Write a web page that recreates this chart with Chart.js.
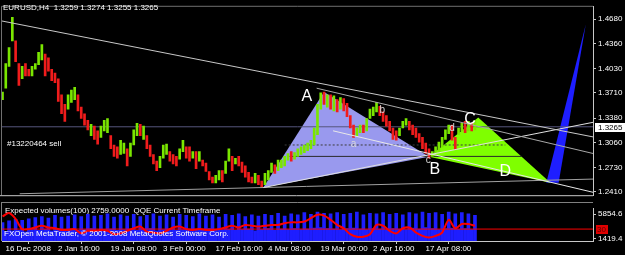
<!DOCTYPE html>
<html>
<head>
<meta charset="utf-8">
<script src="https://cdn.jsdelivr.net/npm/chart.js@4.4.1/dist/chart.umd.min.js"></script>
<style>
  html, body { margin: 0; padding: 0; background: #000; }
  #wrap { position: relative; width: 625px; height: 255px; overflow: hidden; }
  canvas { position: absolute; left: 0; display: block; }
  #mainChart { top: 0; }
  #qqeChart { top: 202px; }
</style>
</head>
<body>
<div id="wrap">
  <canvas id="mainChart" width="625" height="202"></canvas>
  <canvas id="qqeChart" width="625" height="53"></canvas>
</div>
<script>
// EURUSD H4, 16 Dec 2008 .. 22 Apr 2009. one plotted candle = 4 H4 bars
const STEP = 4;

const CANDLE_HIGH = [
  1.3722, 1.4095, 1.4307, 1.4705, 1.4394, 1.4095, 1.4058, 1.4095, 1.4021, 1.4058,
  1.4095, 1.4245, 1.4344, 1.4220, 1.4170, 1.4021, 1.3971, 1.3896, 1.3685, 1.3560,
  1.3685, 1.3747, 1.3784, 1.3685, 1.3523, 1.3436, 1.3349, 1.3299, 1.3274, 1.3212,
  1.3274, 1.3349, 1.3374, 1.3150, 1.3026, 1.3001, 1.3088, 1.3050, 1.2976, 1.3050,
  1.3225, 1.3311, 1.3299, 1.3274, 1.3150, 1.3026, 1.2901, 1.2814, 1.2876, 1.3026,
  1.3038, 1.2939, 1.2901, 1.2876, 1.2976, 1.3088, 1.3001, 1.3001, 1.2939, 1.2939,
  1.2939, 1.2827, 1.2789, 1.2677, 1.2603, 1.2627, 1.2690, 1.2690, 1.2814, 1.2976,
  1.2876, 1.2852, 1.2876, 1.2802, 1.2752, 1.2665, 1.2603, 1.2652, 1.2627, 1.2553,
  1.2652, 1.2690, 1.2789, 1.2764, 1.2827, 1.2827, 1.2876, 1.2914, 1.2939, 1.2926,
  1.2976, 1.3001, 1.3026, 1.3050, 1.3088, 1.3249, 1.3560, 1.3710, 1.3722, 1.3685,
  1.3685, 1.3672, 1.3623, 1.3648, 1.3635, 1.3573, 1.3411, 1.3287, 1.3249, 1.3287,
  1.3287, 1.3374, 1.3498, 1.3523, 1.3585, 1.3535, 1.3461, 1.3411, 1.3336, 1.3249,
  1.3212, 1.3249, 1.3336, 1.3374, 1.3336, 1.3287, 1.3249, 1.3175, 1.3125, 1.3050,
  1.2976, 1.2939, 1.3001, 1.3063, 1.3125, 1.3225, 1.3287, 1.3287, 1.3125, 1.3249,
  1.3311, 1.3336, 1.3336, 1.3311, 1.3349
];
const CANDLE_LOW = [
  1.3623, 1.3772, 1.4058, 1.4394, 1.4120, 1.3809, 1.3896, 1.3934, 1.3934, 1.3934,
  1.4021, 1.4083, 1.4145, 1.3934, 1.3996, 1.3871, 1.3846, 1.3598, 1.3436, 1.3336,
  1.3498, 1.3585, 1.3623, 1.3473, 1.3374, 1.3287, 1.3225, 1.3150, 1.3100, 1.3038,
  1.3125, 1.3212, 1.3187, 1.2976, 1.2876, 1.2852, 1.2901, 1.2914, 1.2752, 1.2876,
  1.3026, 1.3150, 1.3150, 1.3100, 1.2976, 1.2876, 1.2777, 1.2690, 1.2727, 1.2852,
  1.2901, 1.2814, 1.2777, 1.2752, 1.2839, 1.2939, 1.2852, 1.2814, 1.2852, 1.2715,
  1.2814, 1.2752, 1.2677, 1.2566, 1.2528, 1.2528, 1.2566, 1.2541, 1.2652, 1.2814,
  1.2690, 1.2777, 1.2752, 1.2665, 1.2603, 1.2541, 1.2528, 1.2528, 1.2503, 1.2466,
  1.2503, 1.2566, 1.2665, 1.2652, 1.2690, 1.2727, 1.2752, 1.2827, 1.2814, 1.2839,
  1.2876, 1.2901, 1.2926, 1.2951, 1.2976, 1.3026, 1.3162, 1.3498, 1.3560, 1.3523,
  1.3498, 1.3473, 1.3461, 1.3498, 1.3473, 1.3399, 1.3249, 1.3125, 1.3150, 1.3187,
  1.3187, 1.3212, 1.3374, 1.3411, 1.3461, 1.3411, 1.3336, 1.3274, 1.3212, 1.3100,
  1.3088, 1.3150, 1.3249, 1.3287, 1.3225, 1.3162, 1.3125, 1.3063, 1.2976, 1.2914,
  1.2852, 1.2876, 1.2901, 1.2939, 1.3001, 1.3100, 1.3175, 1.3088, 1.2964, 1.3162,
  1.3212, 1.3187, 1.3212, 1.3212, 1.3225
];
// 1 = bull candle, 0 = bear candle
const CANDLE_UP = [
  1, 1, 1, 1, 0, 0, 1, 0, 0, 1,
  1, 1, 1, 0, 0, 0, 0, 0, 0, 0,
  1, 1, 1, 0, 0, 0, 0, 1, 0, 0,
  1, 1, 1, 0, 0, 0, 1, 1, 0, 1,
  1, 1, 0, 1, 0, 0, 0, 0, 1, 1,
  1, 0, 0, 0, 1, 1, 0, 0, 1, 0,
  1, 0, 0, 0, 0, 1, 1, 0, 1, 1,
  0, 1, 0, 0, 0, 0, 0, 1, 0, 0,
  1, 1, 1, 0, 1, 1, 1, 1, 0, 1,
  1, 1, 1, 1, 1, 1, 1, 1, 0, 1,
  0, 1, 0, 1, 0, 0, 0, 0, 1, 1,
  0, 1, 1, 1, 1, 0, 0, 0, 0, 0,
  0, 1, 1, 1, 0, 0, 0, 0, 0, 0,
  0, 1, 1, 1, 1, 1, 1, 0, 0, 1,
  1, 0, 1, 0, 1
];

// Expected volumes(100), one value per plotted candle
const VOLUME = [
  4300, 2700, 4600, 2800, 4900, 2900, 4700, 2600, 5000, 3000,
  5200, 2900, 5400, 3100, 5100, 2800, 5600, 3000, 5300, 2900,
  5500, 3100, 5700, 2900, 5400, 3000, 5800, 3200, 5500, 2800,
  5600, 3000, 5900, 3100, 5300, 2900, 5700, 3000, 5500, 3100,
  5800, 2900, 5400, 3000, 5600, 3200, 5900, 2800, 5500, 3000,
  5700, 3100, 5300, 2900, 5800, 3000, 5600, 3100, 5400, 2900,
  5900, 3000, 5500, 3200, 5700, 2900, 5300, 3000, 5800, 3100,
  5600, 2900, 5900, 3000, 5400, 3100, 5700, 2800, 5500, 3000,
  5800, 3200, 5600, 2900, 6000, 3100, 5500, 3000, 5900, 3200,
  5700, 3000, 6100, 3100, 5800, 3300, 6200, 3400, 6000, 3200,
  5900, 3100, 6100, 3000, 5800, 3200, 6000, 3300, 6200, 3100,
  5700, 3000, 6000, 3200, 5900, 3100, 6100, 3000, 5800, 3200,
  6000, 3100, 5700, 3000, 6100, 3300, 5900, 3100, 6200, 3400,
  6000, 3200, 6100, 3000, 5800, 3200, 6200, 3300, 5900, 3100,
  6100, 3200, 5900, 3000, 5600
];

// QQE, one value every 2 plotted candles
const QQE_STEP = 8;
const QQE = [
  64.3, 73.5, 57.4, 29.9, 29.9, 34.5, 39.0, 34.5, 32.2, 27.6,
  27.6, 29.9, 18.4, 25.3, 25.3, 27.6, 25.3, 16.1, 18.4, 25.3,
  32.2, 36.8, 23.0, 20.7, 18.4, 25.3, 34.5, 36.8, 29.9, 27.6,
  29.9, 27.6, 27.6, 29.9, 34.5, 39.0, 34.5, 41.3, 39.0, 36.8,
  39.0, 41.3, 41.3, 45.9, 48.2, 48.2, 50.5, 59.7, 68.9, 66.6,
  55.1, 41.3, 32.2, 16.1, 9.2, 9.2, 16.1, 41.3, 39.0, 25.3,
  18.4, 32.2, 34.5, 20.7, 11.5, 6.9, 11.5, 20.7, 55.1, 32.2,
  43.6, 43.6, 39.0
];
const QQE_LEVEL = 30;

const PRICE_TICKS = [1.4680, 1.4360, 1.4030, 1.3710, 1.3380, 1.3060, 1.2730, 1.2410];
const VOLUME_TICKS = [5854.6, 1419.4];
const TIME_TICKS = [0, 64, 128, 192, 256, 320, 384, 448, 512];
const TIME_LABELS = ["16 Dec 2008", "2 Jan 16:00", "19 Jan 08:00", "3 Feb 00:00",
  "17 Feb 16:00", "4 Mar 08:00", "19 Mar 00:00", "2 Apr 16:00", "17 Apr 08:00"];
const LAST_PRICE = 1.3265;

// harmonic pattern points X, A, B, C, D (bar, price)
const XABCD_BAR = [318, 392, 520, 580, 668];
const XABCD_PRICE = [1.2466, 1.3722, 1.2870, 1.3386, 1.2528];
// projection wedge (tip, base left, base right)
const PROJ_BAR = [711, 663, 678];
const PROJ_PRICE = [1.4605, 1.2528, 1.2528];

// trend lines: [bar1, price1, bar2, price2]
const TRENDLINES = [
  [-1, 1.4656, 720, 1.3132],
  [383, 1.3772, 720, 1.2914],
  [318, 1.2466, 720, 1.3324],
  [403, 1.3212, 720, 1.2404],
  [21, 1.2385, 720, 1.2578]
];
// horizontal levels: [price, fromBar, toBar]
const LEVELS = [
  [1.3265, -1, 720],
  [1.3026, 344, 613],
  [1.2876, 350, 633]
];

const WAVE_LABELS = ["A", "B", "C", "D", "a", "b", "c", "d"];
const WAVE_LABEL_BAR = [371, 527, 570, 613, 428, 463, 519, 548];
const WAVE_LABEL_PRICE = [1.3660, 1.2702, 1.3361, 1.2677, 1.3038, 1.3486, 1.2827, 1.3249];

const X_MIN = -0.6, X_MAX = 719.9;

const MT_COLORS = {
  bull: "#7ae600",
  bear: "#f01c1c",
  lavender: "#9999ee",
  green: "#7fff00",
  blue: "#1e1eff",
  volume: "#1e1eff",
  qqe: "#ff0000",
  text: "#ffffff",
  axis: "#c8c8c8"
};
const FONT = '"Liberation Sans", Arial, sans-serif';

function pt(bar, price) { return { x: bar, y: price }; }

function polygon(bars, prices, idx, color, order) {
  const pts = idx.map(i => pt(bars[i], prices[i]));
  pts.push(pts[0]);
  return {
    type: "line", data: pts, fill: "shape", backgroundColor: color,
    borderWidth: 0, pointRadius: 0, tension: 0, order
  };
}

const lineColors = ["#c8c8c8", "#a8a8a8", "#e0e0e0", "#e8e8e8", "#a0a0a0"];
const levelStyles = [
  { color: "#55557c", dash: [] },
  { color: "#3c3c3c", dash: [2, 2] },
  { color: "#2a2a2a", dash: [] }
];

const mainDatasets = [
  polygon(XABCD_BAR, XABCD_PRICE, [0, 1, 2], MT_COLORS.lavender, 10),
  polygon(XABCD_BAR, XABCD_PRICE, [2, 3, 4], MT_COLORS.green, 10),
  polygon(PROJ_BAR, PROJ_PRICE, [0, 1, 2], MT_COLORS.blue, 10),
  ...LEVELS.map((l, i) => ({
    type: "line", data: [pt(l[1], l[0]), pt(l[2], l[0])],
    borderColor: levelStyles[i].color, borderDash: levelStyles[i].dash,
    borderWidth: 1, pointRadius: 0, order: 8
  })),
  {
    type: "bar",
    data: CANDLE_HIGH.map((h, i) => ({ x: i * STEP, y: [CANDLE_LOW[i], h] })),
    backgroundColor: ctx => CANDLE_UP[ctx.dataIndex] ? MT_COLORS.bull : MT_COLORS.bear,
    barThickness: 2, borderWidth: 0, order: 5
  },
  ...TRENDLINES.map((t, i) => ({
    type: "line", data: [pt(t[0], t[1]), pt(t[2], t[3])],
    borderColor: lineColors[i], borderWidth: 1, pointRadius: 0, order: 2
  }))
];

const mainOverlay = {
  id: "mainOverlay",
  beforeDraw(chart) {
    const c = chart.ctx;
    c.save();
    c.fillStyle = "#000";
    c.fillRect(0, 0, chart.width, chart.height);
    c.restore();
  },
  afterDraw(chart) {
    const { ctx, chartArea: a, scales: { x, y } } = chart;
    ctx.save();
    ctx.lineWidth = 1;
    ctx.strokeStyle = "#707070";
    ctx.beginPath();
    ctx.moveTo(a.left - 0.5, a.bottom);
    ctx.lineTo(a.left - 0.5, a.top - 0.5);
    ctx.lineTo(a.right, a.top - 0.5);
    ctx.stroke();
    ctx.strokeStyle = "#c8c8c8";
    ctx.beginPath();
    ctx.moveTo(0, a.bottom + 0.5);
    ctx.lineTo(a.right, a.bottom + 0.5);
    ctx.stroke();

    ctx.fillStyle = MT_COLORS.text;
    ctx.textBaseline = "middle";
    ctx.textAlign = "left";
    ctx.font = "8px " + FONT;
    ctx.fillText("EURUSD,H4  1.3259 1.3274 1.3255 1.3265", 3, 8);
    ctx.fillText("#13220464 sell", 7, 144);

    WAVE_LABELS.forEach((txt, i) => {
      const big = txt === txt.toUpperCase();
      ctx.font = (big ? "16px " : "10px ") + FONT;
      ctx.fillStyle = big ? "#ffffff" : "#d8d8d8";
      ctx.textAlign = "center";
      ctx.fillText(txt, x.getPixelForValue(WAVE_LABEL_BAR[i]), y.getPixelForValue(WAVE_LABEL_PRICE[i]));
    });

    const py = Math.round(y.getPixelForValue(LAST_PRICE));
    ctx.fillStyle = "#ffffff";
    ctx.fillRect(a.right + 2, py - 4, 30, 9);
    ctx.fillStyle = "#000";
    ctx.font = "8px " + FONT;
    ctx.textAlign = "left";
    ctx.fillText(LAST_PRICE.toFixed(4), a.right + 5, py + 0.5);
    ctx.restore();
  }
};

new Chart(document.getElementById("mainChart"), {
  type: "bar",
  data: { datasets: mainDatasets },
  options: {
    responsive: false,
    animation: false,
    layout: { padding: { left: 2, top: 2, right: 0, bottom: 1 } },
    plugins: { legend: { display: false }, tooltip: { enabled: false } },
    scales: {
      x: { type: "linear", min: X_MIN, max: X_MAX, display: false, offset: false },
      y: {
        position: "right",
        min: 1.2366, max: 1.4842,
        afterBuildTicks: s => { s.ticks = PRICE_TICKS.map(v => ({ value: v })); },
        afterFit: s => { s.width = 32; },
        ticks: {
          color: MT_COLORS.text, font: { family: FONT, size: 8 }, padding: 2,
          autoSkip: false, callback: v => Number(v).toFixed(4)
        },
        grid: { drawOnChartArea: false, tickLength: 3, color: MT_COLORS.axis },
        border: { color: MT_COLORS.axis }
      }
    }
  },
  plugins: [mainOverlay]
});

const qqeOverlay = {
  id: "qqeOverlay",
  beforeDraw(chart) {
    const c = chart.ctx;
    c.save();
    c.fillStyle = "#000";
    c.fillRect(0, 0, chart.width, chart.height);
    c.restore();
  },
  beforeDatasetsDraw(chart) {
    const { ctx } = chart;
    ctx.save();
    ctx.fillStyle = MT_COLORS.text;
    ctx.font = "8px " + FONT;
    ctx.textBaseline = "middle";
    ctx.fillText("Expected volumes(100) 2759.0000  QQE Current Timeframe", 5, 9);
    ctx.restore();
  },
  afterDraw(chart) {
    const { ctx, chartArea: a, scales: { y2 } } = chart;
    ctx.save();
    ctx.strokeStyle = "#808080";
    ctx.lineWidth = 1;
    ctx.beginPath();
    ctx.moveTo(a.left - 0.5, 0.5);
    ctx.lineTo(a.right, 0.5);
    ctx.moveTo(a.left - 0.5, 0);
    ctx.lineTo(a.left - 0.5, a.bottom);
    ctx.stroke();

    ctx.fillStyle = MT_COLORS.text;
    ctx.font = "8px " + FONT;
    ctx.textBaseline = "middle";
    ctx.fillText("FXOpen MetaTrader, \u00a9 2001-2008 MetaQuotes Software Corp.", 4, 32);

    const ly = Math.round(y2.getPixelForValue(QQE_LEVEL));
    ctx.fillStyle = "#e00000";
    ctx.fillRect(a.right + 3, ly - 4, 12, 9);
    ctx.fillStyle = "#5a0000";
    ctx.fillText(String(QQE_LEVEL), a.right + 4, ly + 0.5);
    ctx.restore();
  }
};

new Chart(document.getElementById("qqeChart"), {
  type: "bar",
  data: {
    datasets: [
      {
        type: "line", yAxisID: "y2",
        data: QQE.map((v, i) => ({ x: i * QQE_STEP, y: v })),
        borderColor: MT_COLORS.qqe, borderWidth: 2, pointRadius: 0, tension: 0.3, order: 1
      },
      {
        type: "line", yAxisID: "y2",
        data: [{ x: X_MIN, y: QQE_LEVEL }, { x: X_MAX, y: QQE_LEVEL }],
        borderColor: MT_COLORS.qqe, borderWidth: 1, pointRadius: 0, order: 2
      },
      {
        type: "bar", yAxisID: "y1",
        data: VOLUME.map((v, i) => ({ x: i * STEP, y: v })),
        backgroundColor: MT_COLORS.volume, barThickness: 3, borderWidth: 0, order: 5
      }
    ]
  },
  options: {
    responsive: false,
    animation: false,
    layout: { padding: { left: 2, top: 1, right: 0, bottom: 0 } },
    plugins: { legend: { display: false }, tooltip: { enabled: false } },
    scales: {
      x: {
        type: "linear", min: X_MIN, max: X_MAX, offset: false,
        afterBuildTicks: s => { s.ticks = TIME_TICKS.map(v => ({ value: v })); },
        afterFit: s => { s.height = 14; },
        ticks: {
          color: MT_COLORS.text, font: { family: FONT, size: 8 },
          align: "start", labelOffset: 3, padding: 0, autoSkip: false, maxRotation: 0,
          callback: (v, i) => TIME_LABELS[i]
        },
        grid: { drawOnChartArea: false, tickLength: 3, color: MT_COLORS.axis },
        border: { color: MT_COLORS.axis }
      },
      y1: {
        position: "right", min: 944, max: 6805,
        afterBuildTicks: s => { s.ticks = VOLUME_TICKS.map(v => ({ value: v })); },
        afterFit: s => { s.width = 32; },
        ticks: {
          color: MT_COLORS.text, font: { family: FONT, size: 8 }, padding: 2,
          autoSkip: false, callback: v => Number(v).toFixed(1)
        },
        grid: { drawOnChartArea: false, tickLength: 3, color: MT_COLORS.axis },
        border: { color: MT_COLORS.axis }
      },
      y2: { display: false, min: -2.3, max: 85 }
    }
  },
  plugins: [qqeOverlay]
});
</script>
</body>
</html>
